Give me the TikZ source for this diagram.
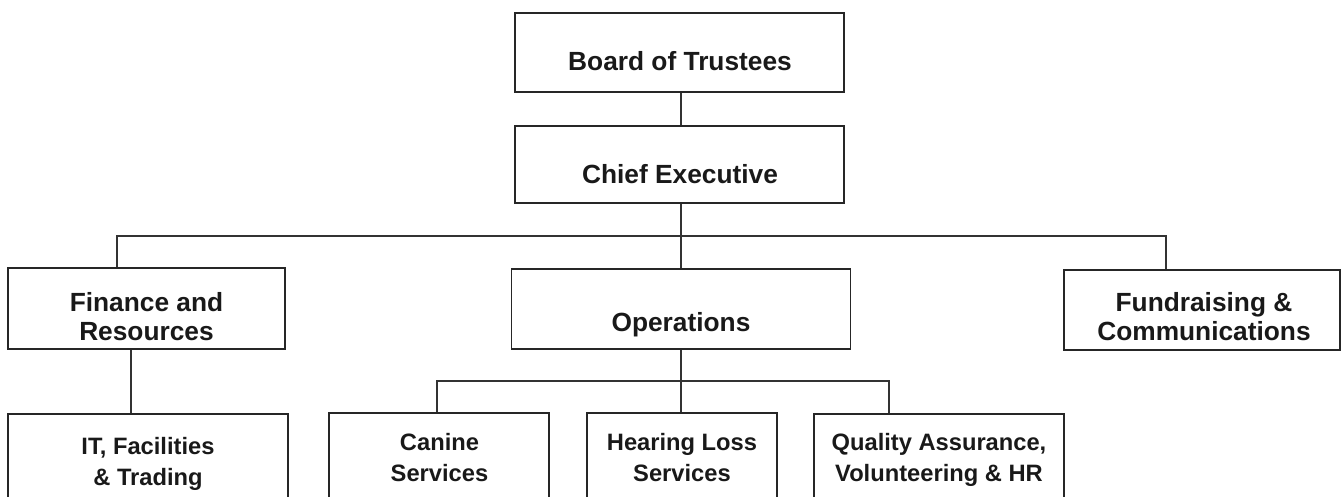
\documentclass[tikz,border=0pt]{standalone}
\usepackage{fontspec}
\setmainfont{Liberation Sans}
\begin{document}
\begin{tikzpicture}[x=1pt,y=-1pt,
  box/.style={draw=black!85, line width=1.7pt, inner sep=0pt},
  conn/.style={draw=black!80, line width=1.5pt},
  toptext/.style={font=\fontsize{26.3}{29.5}\selectfont\bfseries, align=center, inner sep=0pt, text=black!90},
  subtext/.style={font=\fontsize{23.7}{31}\selectfont\bfseries, align=center, inner sep=0pt, text=black!90}]
\useasboundingbox (0,0) rectangle (1344,497);
\clip (0,0) rectangle (1344,497);
% boxes
\node[box, minimum width=329pt, minimum height=79pt] (board) at (679.5,52.5) {};
\node[box, minimum width=329pt, minimum height=77pt] (ceo) at (679.5,164.5) {};
\node[box, minimum width=277pt, minimum height=81pt] (fin) at (146.5,308.5) {};
\node[box, minimum width=339pt, minimum height=80pt] (ops) at (681,309) {};
\node[box, minimum width=276pt, minimum height=80pt] (fund) at (1202,310) {};
\node[box, minimum width=280pt, minimum height=126pt] (it) at (148,477) {};
\node[box, minimum width=220pt, minimum height=127pt] (canine) at (439,476.5) {};
\node[box, minimum width=190pt, minimum height=127pt] (hear) at (682,476.5) {};
\node[box, minimum width=250pt, minimum height=126pt] (qual) at (939,477) {};
% texts
\node[toptext] (boardT) at (680,61.5) {Board of Trustees};
\node[toptext] (ceoT) at (680,174.5) {Chief Executive};
\node[toptext] (finT) at (146.5,316.7) {Finance and\\Resources};
\node[toptext] (opsT) at (681,325) {Operations};
\node[toptext] (fundT) at (1204,316.5) {Fundraising \&\\Communications};
\node[subtext] (itT) at (148,464.2) {IT, Facilities\\\& Trading};
\node[subtext] (canT) at (439.5,457.5) {Canine\\Services};
\node[subtext] (hearT) at (682,457.5) {Hearing Loss\\Services};
\node[subtext] (qualT) at (939,460) {Quality Assurance,\\Volunteering \& HR};
% connectors
\coordinate (busL) at (117,236);
\coordinate (busR) at (1166,236);
\coordinate (subL) at (437,381);
\coordinate (subR) at (889,381);
\draw[conn] (board.south -| ops.north) -- (ceo.north -| ops.north);
\draw[conn] (ceo.south -| ops.north) -- (ops.north);
\draw[conn] (fin.north -| busL) -- (busL) -- (busR) -- (fund.north -| busR);
\draw[conn] (ops.south) -- (ops.south |- hear.north);
\draw[conn] (canine.north -| subL) -- (subL) -- (subR) -- (qual.north -| subR);
\draw[conn] ([xshift=-15.5pt]fin.south) -- ([xshift=-17pt]it.north);
\end{tikzpicture}
\end{document}
